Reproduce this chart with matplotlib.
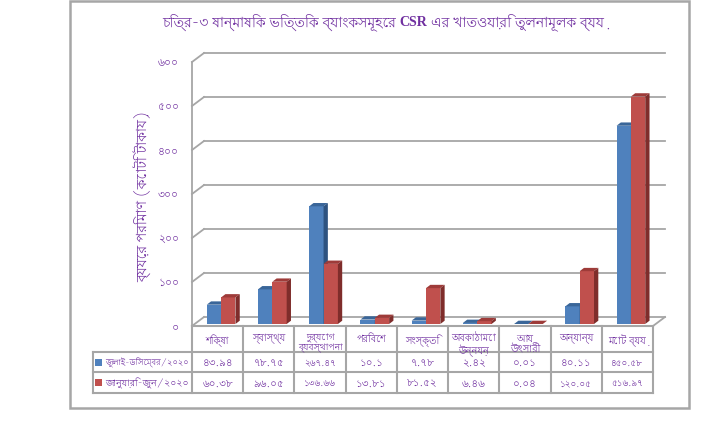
import matplotlib
matplotlib.use("Agg")
import matplotlib.pyplot as plt
from matplotlib import font_manager as fm
from matplotlib.ft2font import FT2Font
from matplotlib.patches import Polygon, Rectangle
from matplotlib.transforms import Affine2D, blended_transform_factory

# ---------------- data ----------------
categories = ["শিক্ষা", "স্বাস্থ্য", "দুর্যোগ\nব্যবস্থাপনা", "পরিবেশ", "সংস্কৃতি",
              "অবকাঠামো\nউন্নয়ন", "আয়\nউৎসারী", "অন্যান্য", "মোট ব্যয়"]
series_names = ["জুলাই-ডিসেম্বর/২০২০", "জানুয়ারি-জুন/২০২০"]
jul_dec_2020 = [43.94, 78.75, 267.47, 10.1, 7.78, 2.42, 0.01, 40.11, 450.58]
jan_jun_2020 = [60.38, 96.05, 136.66, 13.81, 81.52, 6.46, 0.04, 120.05, 516.97]
y_ticks = [0, 100, 200, 300, 400, 500, 600]
title_parts = ["চিত্র-৩ ষান্মাষিক ভিত্তিক ব্যাংকসমূহের", "CSR", "এর খাতওয়ারি তুলনামূলক ব্যয়"]
y_label = "ব্যয়ের পরিমাণ (কোটি টাকায়)"

BN_DIGITS = str.maketrans("0123456789", "০১২৩৪৫৬৭৮৯")
def bn(s):
    return str(s).translate(BN_DIGITS)

# ---------------- fonts ----------------
def bengali_fonts():
    out, seen = [], set()
    for f in fm.fontManager.ttflist:
        if f.fname in seen:
            continue
        seen.add(f.fname)
        try:
            if 0x0995 in FT2Font(f.fname).get_charmap():
                out.append(f.name)
        except Exception:
            continue
    return out

def rank(name):
    n = name.lower()
    score = 0
    if "mono" in n:
        score += 100
    if "bengali" in n or "bangla" in n:
        score -= 20
    if "serif" in n:
        score -= 5
    if "lohit" in n:
        score -= 10
    return score

cands = sorted(set(bengali_fonts()), key=rank)
FAM = cands[:1] + ["DejaVu Sans"]
plt.rcParams["font.family"] = FAM

PURPLE = "#7030A0"
GRID = "#A6A6A6"
BLUE = ("#4F81BD", "#3A6699", "#2E5380")
RED = ("#C0504D", "#9E3B39", "#7F2D2B")

W, H = 719, 427
fig = plt.figure(figsize=(W / 100, H / 100), dpi=100)
fig.patch.set_facecolor("white")
renderer = fig.canvas.get_renderer()

def shrink_to(t, max_w=None, max_h=None, exact=False):
    for _ in range(3):
        bb = t.get_window_extent(renderer)
        fs = t.get_fontsize()
        f = 1.0
        if max_w is not None and bb.width > 0 and (bb.width > max_w or exact):
            f = min(f, max_w / bb.width) if not exact else max_w / bb.width
        if max_h is not None and bb.height > 0 and (bb.height > max_h or exact):
            f = min(f, max_h / bb.height) if not exact else max_h / bb.height
        t.set_fontsize(fs * f)

# front plane of the plot: x 192..653 px, y 327..63 px
L, R, B, T = 192, 653, 327, 63
ax = fig.add_axes([L / W, (H - B) / H, (R - L) / W, (B - T) / H])
ax.set_xlim(0, len(categories))
ax.set_ylim(0, 600)
ax.axis("off")
ax.set_zorder(2)

kx = len(categories) / (R - L)
ky = 600 / (B - T)
DX, DY = 12 * kx, 9 * ky
BX, BY = 3.5 * kx, 2 * ky
SX, SY = 4.3 * kx, 3.3 * ky

pix = Affine2D().scale(1 / W, -1 / H).translate(0, 1) + fig.transFigure
colpix = blended_transform_factory(ax.transData, pix)

# back wall gridlines and side wall diagonals
for v in y_ticks:
    ax.plot([DX, len(categories) + DX], [v + DY, v + DY], color=GRID, lw=1.3,
            clip_on=False, zorder=1)
    ax.plot([0, DX], [v, v + DY], color=GRID, lw=1.3, clip_on=False, zorder=1)
ax.plot([0, 0], [0, 600], color=GRID, lw=1.3, clip_on=False, zorder=1)
ax.plot([len(categories), len(categories) + DX], [0, DY], color=GRID, lw=1.3,
        clip_on=False, zorder=1)

bw = 0.28
def bar3d(x0, h, cols, z):
    x0 += BX
    x1 = x0 + bw
    y0 = BY
    y1 = BY + h
    ax.add_patch(Rectangle((x0, y0), bw, h, facecolor=cols[0], edgecolor="none",
                           zorder=z, clip_on=False))
    ax.add_patch(Polygon([(x0, y1), (x1, y1), (x1 + SX, y1 + SY), (x0 + SX, y1 + SY)],
                         closed=True, facecolor=cols[1], edgecolor="none",
                         zorder=z, clip_on=False))
    ax.add_patch(Polygon([(x1, y0), (x1, y1), (x1 + SX, y1 + SY), (x1 + SX, y0 + SY)],
                         closed=True, facecolor=cols[2], edgecolor="none",
                         zorder=z, clip_on=False))

for i, (a, b) in enumerate(zip(jul_dec_2020, jan_jun_2020)):
    bar3d(i + 0.22, a, BLUE, 3)
    bar3d(i + 0.22 + bw, b, RED, 4)

for v in y_ticks:
    t = ax.text(-13 * kx, v, bn(v), ha="right", va="center", fontsize=8,
                color=PURPLE, clip_on=False)
    shrink_to(t, max_w=21)

# ---------------- data table ----------------
n = len(categories)
r0, r1, r2, r3 = 327, 353, 373, 394
xl = 93
for yy in (r1, r2, r3):
    fig.add_artist(plt.Line2D([xl / W, R / W], [(H - yy) / H] * 2, color=GRID, lw=1.5))
fig.add_artist(plt.Line2D([L / W, R / W], [(H - r0) / H] * 2, color=GRID, lw=1.5))
fig.add_artist(plt.Line2D([xl / W, xl / W], [(H - r1) / H, (H - r3) / H], color=GRID, lw=1.5))
for i in range(n + 1):
    ax.plot([i, i], [r0, r3], color=GRID, lw=1.5, transform=colpix, clip_on=False)

for i, c in enumerate(categories):
    t = ax.text(i + 0.5, 334, c, transform=colpix, ha="center", va="top", fontsize=7,
                color=PURPLE, linespacing=1.0, clip_on=False)
    shrink_to(t, max_w=45)
    t = ax.text(i + 0.5, (r1 + r2) / 2, bn(jul_dec_2020[i]), transform=colpix,
                ha="center", va="center", fontsize=7.5, color=PURPLE, clip_on=False)
    shrink_to(t, max_w=32)
    t = ax.text(i + 0.5, (r2 + r3) / 2, bn(jan_jun_2020[i]), transform=colpix,
                ha="center", va="center", fontsize=7.5, color=PURPLE, clip_on=False)
    shrink_to(t, max_w=32)

for k, (name, col) in enumerate(zip(series_names, (BLUE[0], RED[0]))):
    yc = (r1 + r2) / 2 if k == 0 else (r2 + r3) / 2
    fig.add_artist(Rectangle((95, yc + 3.5), 7, -7, transform=pix, facecolor=col,
                             edgecolor="none"))
    t = fig.text(105 / W, (H - yc) / H, name, ha="left", va="center", fontsize=7,
                 color=PURPLE)
    shrink_to(t, max_w=84)

# ---------------- title (three parts, CSR in bold serif) ----------------
fs = 11
parts = []
for j, p in enumerate(title_parts):
    if p == "CSR":
        t = fig.text(0, (H - 22) / H, p, ha="left", va="center", fontsize=fs,
                     color=PURPLE, family=["Liberation Serif", "DejaVu Serif"],
                     fontweight="bold")
    else:
        t = fig.text(0, (H - 22) / H, p, ha="left", va="center", fontsize=fs,
                     color=PURPLE, fontweight="semibold")
    parts.append(t)

def layout_title(scale):
    for t in parts:
        t.set_fontsize(t.get_fontsize() * scale)
    widths = [t.get_window_extent(renderer).width for t in parts]
    gap = parts[0].get_fontsize() * 0.35
    return widths, gap

widths, gap = layout_title(1.0)
total = sum(widths) + gap * (len(parts) - 1)
widths, gap = layout_title(443 / total)
total = sum(widths) + gap * (len(parts) - 1)
x = 383 - total / 2
for t, w in zip(parts, widths):
    t.set_x(x / W)
    x += w + gap

t = fig.text(143 / W, (H - 197) / H, y_label, ha="center", va="center", rotation=90,
             fontsize=10, color=PURPLE, fontweight="semibold")
shrink_to(t, max_h=173)

fig.add_artist(Rectangle((70, 2), 619, 407, transform=pix, facecolor="none",
                         edgecolor=GRID, lw=1.8))

fig.savefig("out.png", dpi=100)
